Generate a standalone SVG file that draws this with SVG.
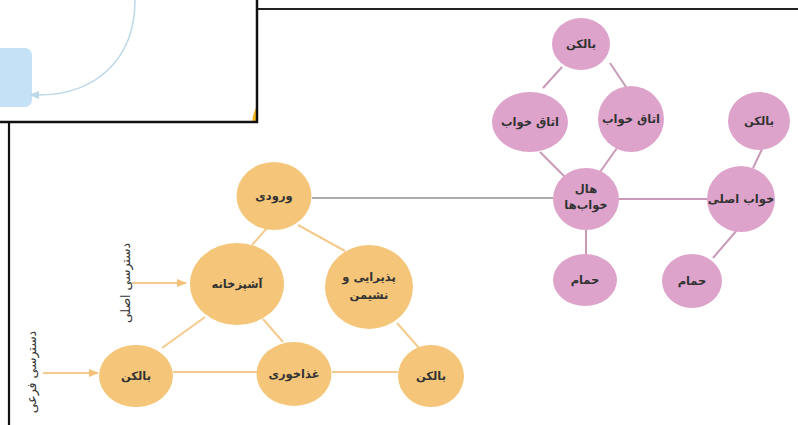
<svg xmlns="http://www.w3.org/2000/svg" width="798" height="425" viewBox="0 0 798 425">
<defs>
<style>
.o{fill:#F5C679}
.p{fill:#DEA3CB}
.eo{stroke:#F4CB8C;stroke-width:2;fill:none}
.ep{stroke:#C89AB8;stroke-width:2;fill:none}
.t{font-family:"DejaVu Sans",sans-serif;font-size:11.5px;font-weight:bold;fill:#333;text-anchor:middle;direction:rtl}
.lbl{font-family:"DejaVu Sans",sans-serif;font-size:12.5px;fill:#333;text-anchor:middle;direction:rtl}
</style>
<marker id="ah" markerWidth="10" markerHeight="8" refX="9" refY="4" orient="auto" markerUnits="userSpaceOnUse">
<path d="M0,0 L10,4 L0,8 z" fill="#F4C07A"/>
</marker>
<marker id="bh" markerWidth="10" markerHeight="8" refX="1" refY="4" orient="auto-start-reverse" markerUnits="userSpaceOnUse">
<path d="M0,0 L10,4 L0,8 z" fill="#BCD8EA"/>
</marker>
<clipPath id="pc"><rect x="0" y="0" width="257" height="122"/></clipPath>
</defs>
<rect width="798" height="425" fill="#fff"/>

<g id="connectors">
<line x1="312" y1="198" x2="553" y2="198" stroke="#ABABAB" stroke-width="2"/>
<line class="eo" x1="267" y1="228" x2="252" y2="245"/>
<line class="eo" x1="298" y1="225" x2="345" y2="251"/>
<line class="eo" x1="205" y1="317" x2="162" y2="348"/>
<line class="eo" x1="263" y1="319" x2="283" y2="342"/>
<line class="eo" x1="397" y1="323" x2="419" y2="348"/>
<line class="eo" x1="173" y1="372" x2="257" y2="372"/>
<line class="eo" x1="332" y1="372" x2="398" y2="372"/>
<line class="eo" x1="132" y1="283" x2="186" y2="283" marker-end="url(#ah)"/>
<line class="eo" x1="43" y1="373" x2="98" y2="373" marker-end="url(#ah)"/>
<line class="ep" x1="543" y1="88" x2="562" y2="67"/>
<line class="ep" x1="610" y1="63" x2="628" y2="90"/>
<line class="ep" x1="540" y1="152" x2="565" y2="177"/>
<line class="ep" x1="617" y1="148" x2="600" y2="172"/>
<line class="ep" x1="618" y1="199" x2="708" y2="199"/>
<line class="ep" x1="586" y1="230" x2="586" y2="255"/>
<line class="ep" x1="763" y1="147" x2="753" y2="168"/>
<line class="ep" x1="737" y1="230" x2="713" y2="258"/>
</g>

<g id="n-entrance"><ellipse class="o" cx="274" cy="196" rx="37.5" ry="34"/><text class="t" x="274" y="200">ورودی</text></g>
<g id="n-kitchen"><ellipse class="o" cx="237" cy="284" rx="47" ry="41"/><text class="t" x="237" y="288">آشپزخانه</text></g>
<g id="n-living"><ellipse class="o" cx="369" cy="287" rx="44" ry="42"/><text class="t" x="369" y="281">پذیرایی و</text><text class="t" x="369" y="299">نشیمن</text></g>
<g id="n-balcony1"><ellipse class="o" cx="136" cy="376" rx="37" ry="31"/><text class="t" x="136" y="380">بالکن</text></g>
<g id="n-dining"><ellipse class="o" cx="294" cy="374" rx="37.5" ry="32"/><text class="t" x="294" y="378">غذاخوری</text></g>
<g id="n-balcony2"><ellipse class="o" cx="431" cy="376" rx="33" ry="31"/><text class="t" x="431" y="380">بالکن</text></g>

<g id="n-balcony3"><ellipse class="p" cx="581" cy="44" rx="29" ry="26"/><text class="t" x="581" y="48">بالکن</text></g>
<g id="n-bed1"><ellipse class="p" cx="530" cy="122" rx="38" ry="30"/><text class="t" x="530" y="126">اتاق خواب</text></g>
<g id="n-bed2"><ellipse class="p" cx="631" cy="119" rx="33" ry="33"/><text class="t" x="631" y="123">اتاق خواب</text></g>
<g id="n-balcony4"><ellipse class="p" cx="759" cy="121" rx="31" ry="29"/><text class="t" x="759" y="125">بالکن</text></g>
<g id="n-hall"><ellipse class="p" cx="586" cy="199" rx="33" ry="31"/><text class="t" x="586" y="193">هال</text><text class="t" x="586" y="209">خواب‌ها</text></g>
<g id="n-master"><ellipse class="p" cx="741" cy="199" rx="34" ry="33"/><text class="t" x="741" y="203">خواب اصلی</text></g>
<g id="n-bath1"><ellipse class="p" cx="585" cy="280" rx="32" ry="26"/><text class="t" x="585" y="284">حمام</text></g>
<g id="n-bath2"><ellipse class="p" cx="692" cy="281" rx="30" ry="27"/><text class="t" x="692" y="285">حمام</text></g>

<text class="lbl" transform="translate(126,283) rotate(-90)" y="4">دسترسی اصلی</text>
<text class="lbl" transform="translate(32,372) rotate(-90)" y="4">دسترسی فرعی</text>

<g id="panel">
<rect x="0" y="0" width="257" height="122" fill="#fff"/>
<g clip-path="url(#pc)">
<rect x="-10" y="48" width="42" height="59" rx="7" fill="#C5E1F5"/>
<path d="M135,0 C135,60 95,95 38,95" stroke="#BCD8EA" stroke-width="1.5" fill="none" marker-end="url(#bh)"/>
<ellipse cx="278" cy="125" rx="26" ry="32" fill="#F6B71C"/>
</g>
<polyline points="0,122 257,122 257,0" fill="none" stroke="#111" stroke-width="2.5"/>
</g>
<line x1="258" y1="9" x2="798" y2="9" stroke="#222" stroke-width="2"/>
<line x1="9" y1="123" x2="9" y2="425" stroke="#111" stroke-width="2.2"/>
</svg>
